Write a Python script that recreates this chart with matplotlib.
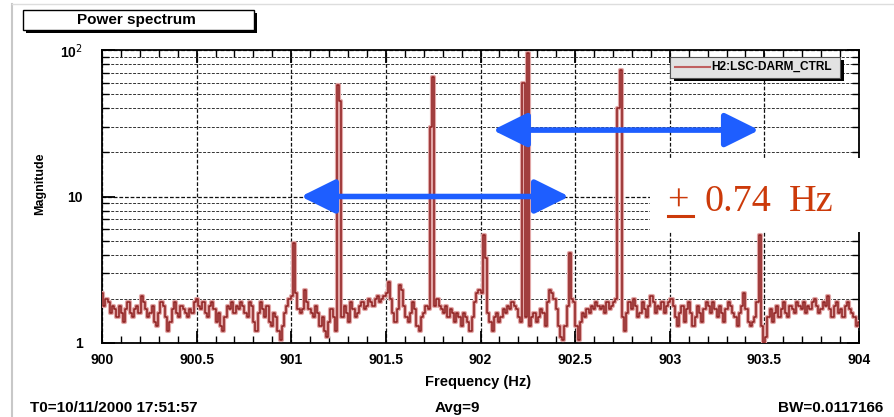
import numpy as np
import matplotlib.pyplot as plt
import matplotlib.patches as mpatches
from matplotlib.ticker import MultipleLocator, LogLocator, NullFormatter

# noise floor of the spectrum in 0.5 Hz pieces
seg1 = [2.2, 1.8, 2.0, 1.9, 1.6, 1.8, 1.7, 1.5, 1.8, 1.6, 1.4, 1.7, 1.9, 1.6, 1.5, 1.7, 1.8, 1.6, 2.1, 1.9, 1.7,
        1.5, 1.6, 1.8, 1.4, 1.3, 1.6, 1.9, 1.8, 1.5, 1.2, 1.4, 1.7, 1.9, 1.6, 1.5, 1.8, 1.7, 1.6, 1.5, 1.7, 1.6, 1.9]
seg2 = [2.0, 1.8, 1.7, 1.9, 1.6, 1.5, 1.8, 1.9, 1.7, 1.4, 1.6, 1.3, 1.2, 1.5, 1.8, 1.7, 1.9, 1.6, 1.8, 1.7, 1.9,
        1.8, 1.6, 1.5, 1.9, 1.8, 1.4, 1.2, 1.6, 1.9, 1.7, 1.5, 1.8, 1.4, 1.3, 1.6, 1.5, 1.2, 1.05, 1.3, 1.6, 1.8, 2.0]
seg3 = [2.1, 1.9, 2.2, 1.7, 1.6, 1.7, 2.3, 1.9, 1.7, 1.6, 1.5, 1.8, 1.6, 1.3, 1.5, 1.2, 1.1, 1.4, 1.7, 1.5, 1.2,
        1.6, 1.1, 1.5, 1.8, 1.6, 1.4, 1.9, 1.7, 1.5, 1.6, 1.8, 1.9, 1.7, 1.8, 2.0, 1.9, 1.8, 2.0, 2.1, 1.9, 2.0, 2.1]
seg4 = [2.2, 2.6, 2.0, 1.6, 1.4, 1.7, 2.5, 2.3, 1.8, 1.5, 1.4, 1.6, 1.9, 1.7, 1.3, 1.2, 1.5, 1.6, 1.8, 1.7, 1.4,
        1.9, 1.8, 2.0, 1.8, 1.7, 1.6, 1.8, 1.5, 1.7, 1.6, 1.4, 1.6, 1.5, 1.3, 1.6, 1.5, 1.4, 1.2, 1.5, 1.9, 2.2, 2.3]
seg5 = [2.2, 2.1, 2.4, 1.6, 1.4, 1.2, 1.5, 1.6, 1.4, 1.5, 1.7, 1.6, 1.8, 1.7, 1.9, 1.8, 1.7, 1.5, 1.4, 1.6, 1.5,
        1.05, 1.3, 1.5, 1.6, 1.4, 1.5, 1.7, 1.6, 1.3, 1.9, 2.3, 2.2, 2.0, 1.7, 1.3, 1.1, 1.05, 1.3, 1.8, 2.1, 2.0, 1.9]
seg6 = [1.3, 1.05, 1.4, 1.6, 1.5, 1.7, 1.6, 1.8, 1.7, 1.9, 1.8, 1.7, 1.8, 1.6, 1.9, 1.7, 1.8, 1.9, 2.0, 1.8, 1.9,
        1.5, 1.2, 1.6, 1.9, 1.7, 2.0, 1.8, 1.5, 1.6, 1.9, 1.7, 1.5, 1.8, 2.1, 1.9, 1.6, 1.8, 1.7, 1.9, 1.6, 1.8, 1.9]
seg7 = [2.0, 1.8, 1.5, 1.3, 1.6, 1.8, 1.4, 1.7, 1.9, 1.6, 1.3, 1.5, 1.8, 1.6, 1.4, 1.7, 1.9, 1.8, 1.6, 1.9, 1.7,
        1.5, 1.8, 1.6, 1.4, 1.7, 1.9, 1.8, 1.6, 1.5, 1.3, 1.6, 1.8, 2.2, 1.7, 1.4, 1.3, 1.4, 1.5, 1.9, 2.1, 1.3, 1.0]
seg8 = [1.1, 1.5, 1.7, 1.4, 1.6, 1.8, 1.5, 1.7, 1.9, 1.6, 1.5, 1.8, 1.7, 1.6, 1.9, 1.8, 1.7, 1.9, 1.6, 1.8, 1.7,
        1.9, 2.0, 1.8, 1.6, 1.7, 1.9, 1.8, 2.1, 1.7, 1.5, 1.8, 1.9, 1.6, 1.7, 1.5, 1.8, 1.9, 1.7, 1.6, 1.5, 1.3, 1.4]

# the lines sticking out of the floor (Hz, magnitude)
peak_freq = [901.02, 901.245, 901.257, 901.733, 901.745, 902.022, 902.034,
             902.233, 902.245, 902.475, 902.733, 902.745, 903.476]
peak_mag = [4.8, 58, 45, 30, 65, 5.5, 3.8, 60, 95, 4.1, 40, 73, 5.5]

# arrows drawn over the plot: (f_start, f_end, magnitude)
arrow_lo = (901.036, 902.483, 10)
arrow_hi = (902.05, 903.487, 28.4)

x_ticks = [900, 900.5, 901, 901.5, 902, 902.5, 903, 903.5, 904]
x_labels = ['900', '900.5', '901', '901.5', '902', '902.5', '903', '903.5', '904']
y_ticks = [1, 10, 100]
y_labels = ['1', '10', '10$^{2}$']

mag = np.array(seg1 + seg2 + seg3 + seg4 + seg5 + seg6 + seg7 + seg8, dtype=float)
freq = np.linspace(900, 904, len(mag))
for f, m in zip(peak_freq, peak_mag):
    mag[np.argmin(np.abs(freq - f))] = m

W, H = 894, 417
fig = plt.figure(figsize=(W / 100, H / 100), dpi=100)
fig.patch.set_facecolor('white')

def fx(x):
    return x / W

def fy(y):
    return 1 - y / H

ax = fig.add_axes([fx(102), fy(343), fx(859) - fx(102), fy(50) - fy(343)])

# spectrum, with a soft halo like the blurry original
ax.plot(freq, mag, color='#e2a7a7', lw=3.0, drawstyle='steps-mid', zorder=3)
ax.plot(freq, mag, color='#8e1f1f', lw=1.1, drawstyle='steps-mid', zorder=4)

ax.set_xlim(900, 904)
ax.set_yscale('log')
ax.set_ylim(1, 100)

lab_font = dict(family='Liberation Sans', weight='bold', size=10)
ax.set_xticks(x_ticks)
ax.set_xticklabels(x_labels, fontdict=lab_font)
ax.set_yticks(y_ticks)
ax.set_yticklabels(y_labels, fontdict=lab_font)
ax.xaxis.set_minor_locator(MultipleLocator(0.1))
ax.yaxis.set_minor_locator(LogLocator(base=10, subs=np.arange(2, 10)))
ax.yaxis.set_minor_formatter(NullFormatter())

ax.tick_params(which='both', direction='in', top=True, right=True)
ax.tick_params(which='major', length=9, width=1.3, pad=7)
ax.tick_params(which='minor', length=5, width=1.0)
ax.tick_params(axis='y', which='major', pad=14)

# dashed grid
ax.grid(which='major', axis='both', color='#111111', ls=(0, (3, 1.5)), lw=0.9, zorder=1)
ax.yaxis.grid(which='minor', color='#333333', ls=(0, (3, 1.5)), lw=0.7, zorder=1)
ax.set_axisbelow(True)

for s in ax.spines.values():
    s.set_linewidth(1.3)

# blue arrows
for f0, f1, yv in (arrow_lo, arrow_hi):
    ar = mpatches.FancyArrowPatch((f0, yv), (f1, yv),
                                  arrowstyle='<|-|>,head_length=1.05,head_width=0.52',
                                  mutation_scale=20, color='#1e5eff', lw=4, zorder=6)
    ax.add_patch(ar)

# legend box with shadow
fig.patches.append(mpatches.Rectangle((fx(674), fy(81)), fx(170), fy(0) - fy(21),
                                      transform=fig.transFigure, facecolor='black', edgecolor='none', zorder=8))
fig.patches.append(mpatches.Rectangle((fx(670), fy(78)), fx(170), fy(0) - fy(21),
                                      transform=fig.transFigure, facecolor='#e2e2e2', edgecolor='#555555',
                                      lw=0.8, zorder=9))
fig.add_artist(plt.Line2D([fx(675), fx(710)], [fy(67), fy(67)], color='#c06060', lw=1.5, zorder=10))
fig.text(fx(711), fy(67), 'H2:LSC-DARM_CTRL', family='Liberation Sans', weight='bold', size=8.6,
         va='center', ha='left', zorder=10)

# white box with the annotation text
fig.patches.append(mpatches.Rectangle((fx(650), fy(232)), fx(222), fy(0) - fy(74),
                                      transform=fig.transFigure, facecolor='white', edgecolor='none', zorder=11))
ann = dict(family='Liberation Serif', size=27.5, color='#cc3a0a', va='baseline', zorder=12)
fig.text(fx(667), fy(211), '+', ha='left', **ann)
fig.text(fx(705), fy(211), '0.74', ha='left', **ann)
fig.text(fx(789), fy(211), 'Hz', ha='left', **ann)
fig.add_artist(plt.Line2D([fx(668), fx(693)], [fy(216), fy(216)], color='#cc3a0a', lw=2.2, zorder=12))

# title box with shadow
fig.patches.append(mpatches.Rectangle((fx(26), fy(33)), fx(231), fy(0) - fy(20),
                                      transform=fig.transFigure, facecolor='black', edgecolor='none', zorder=8))
fig.patches.append(mpatches.Rectangle((fx(23), fy(30)), fx(231), fy(0) - fy(20),
                                      transform=fig.transFigure, facecolor='white', edgecolor='black',
                                      lw=1.0, zorder=9))
fig.text(fx(136), fy(20), 'Power spectrum', family='Liberation Sans', weight='bold', size=11,
         ha='center', va='center', zorder=10)

# axis titles and footer
txt = dict(family='Liberation Sans', weight='bold')
fig.text(fx(40), fy(184), 'Magnitude', size=9, rotation=90, ha='center', va='center', **txt)
fig.text(fx(478), fy(382), 'Frequency (Hz)', size=10.5, ha='center', va='center', **txt)
fig.text(fx(30), fy(408), 'T0=10/11/2000 17:51:57', size=11, ha='left', va='center', **txt)
fig.text(fx(435), fy(408), 'Avg=9', size=11, ha='left', va='center', **txt)
fig.text(fx(883), fy(408), 'BW=0.0117166', size=11, ha='right', va='center', **txt)

# faint canvas frame on the left and top
fig.add_artist(plt.Line2D([fx(12), fx(12)], [fy(4), fy(417)], color='#c8c8c8', lw=1.5))
fig.add_artist(plt.Line2D([fx(12), fx(894)], [fy(4), fy(4)], color='#dddddd', lw=1.0))

fig.savefig('out.png', dpi=100)
